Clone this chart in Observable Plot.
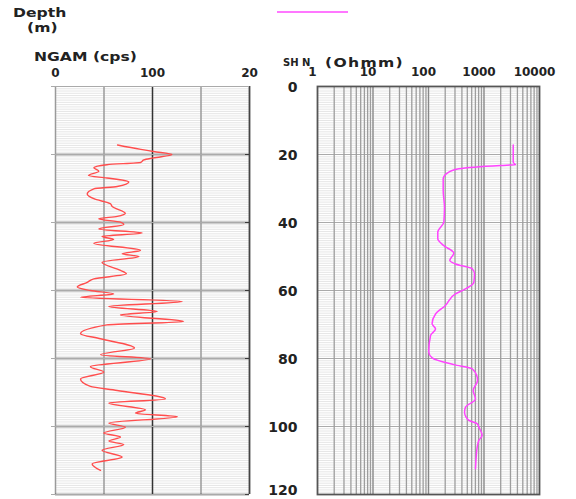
<!DOCTYPE html>
<html><head><meta charset="utf-8">
<script src="https://cdn.jsdelivr.net/npm/d3@7"></script>
<script src="https://cdn.jsdelivr.net/npm/@observablehq/plot@0.6"></script>
<style>
body{margin:0;background:#fff;}
#wrap{position:relative;width:576px;height:499px;overflow:hidden;font-family:"DejaVu Sans",sans-serif;font-weight:bold;color:#222;}
#wrap svg{position:absolute;left:0;top:0;overflow:visible;}
.lbl{position:absolute;white-space:nowrap;font-size:12px;line-height:14px;transform-origin:left center;}
.leg{position:absolute;left:277px;top:11px;width:71px;height:2px;background:#ff77ff;}
</style></head><body><div id="wrap"></div>
<script>
// NGAM (cps) log
const ngamDepth = [17.2,18.5,19.1,20,21,21.6,22.3,23,23.9,24.9,26.2,26.9,28.1,29.4,30.1,31.6,33,34.5,35.3,37.3,38.2,38.9,39.9,40.6,41.9,43.1,44.1,45,46.1,48.2,49.2,50,51.7,54.1,55.1,56.6,57.6,59,60,61,62,63.2,64.7,66.2,67.2,69.1,70.1,72.7,74.2,76.9,78.9,80.1,82.4,84,86,88.2,89.4,91.9,93.1,95.1,96.1,97.1,99,100.2,101.9,103.1,104.3,105.3,107,109,111,112.9];
const ngamValue = [64,88,101,120,101,91,88,53,39.5,44.6,34,53,75.6,63.6,39.5,32.7,39.5,56.7,58.4,72,63.6,44.6,67,70.4,44.6,89.4,48,60,39.5,87.6,68.7,86,48,67,73,39.5,32.7,22.4,36,60,25.8,130.6,55,104.8,67,132,53,25.8,46.4,81.4,46.4,98,36,49.8,25.8,36,63.6,113.4,55,92.8,82.5,125.5,55,72,49.8,67,55,70.4,48,68.7,37.8,46.4];
// SHN resistivity (Ohmm) log
const resDepth = [17.2,22.3,23,23.2,24.2,25.5,27.2,30.6,35.5,39.9,42.8,44.8,46.8,49,51.2,52.2,53.6,55.1,57.6,59.8,61,64.4,66.9,69.8,71.3,73.2,78.1,79.8,81.8,83,85.5,86.5,89.4,91.9,94.3,95.8,98.2,99.2,100.2,102.6,104.1,106.1,109,112.4];
const resValue = [3360,3360,3690,1980,352,217,184,184,194,189,147,147,189,286,242,306,612,674,656,433,306,202,134,116,134,109,101,116,286,612,754,765,638,703,464,446,533,754,807,927,807,754,723,703];
// axes
const depthTicks = [0,20,40,60,80,100,120];
const ngamTicks = [0,100,200];
const ngamTickLabels = ["0","100","20"];
const ngamGrid = [50,150];
const resTicks = [1,10,100,1000,10000];
const resTickLabels = ["1","10","100","1000","10000"];

const ngam = ngamDepth.map((d,i)=>({d, v: ngamValue[i]}));
const res = resDepth.map((d,i)=>({d, v: resValue[i]}));
const minorDepths = d3.range(0, 120.01, 2/3);
const majorDepths = depthTicks.slice(1, -1);
const logMinor = [];
for (let k = 0; k < 4; k++) for (let m = 2; m <= 9; m++) logMinor.push(m * Math.pow(10, k));

const wrap = document.getElementById("wrap");
const font = "DejaVu Sans, sans-serif";
const depthLabelStyle = {text: d => String(d), frameAnchor: "left", dx: -20,
  textAnchor: "end", fontSize: 14, fontWeight: "bold", fill: "#222", style: "letter-spacing:2px"};

const left = Plot.plot({
  width: 260, height: 499,
  marginLeft: 55, marginRight: 11, marginTop: 86, marginBottom: 5,
  style: {fontFamily: font, background: "transparent"},
  x: {domain: [0, 200], axis: null},
  y: {domain: [0, 120], reverse: true, axis: null},
  marks: [
    Plot.ruleY(minorDepths, {y: d => d, stroke: "#e6e6e6", strokeWidth: 1}),
    Plot.ruleY(majorDepths, {y: d => d, stroke: "#3a3a3a", strokeWidth: 1.4}),
    Plot.ruleX(ngamGrid, {x: d => d, stroke: "#9a9a9a", strokeWidth: 1.5}),
    Plot.ruleX([100], {x: d => d, stroke: "#333", strokeWidth: 1.5}),
    Plot.ruleX([0], {x: d => d, stroke: "#9a9a9a", strokeWidth: 1.5}),
    Plot.ruleX([200], {x: d => d, stroke: "#444", strokeWidth: 1.8}),
    Plot.ruleY([0], {y: d => d, stroke: "#aaa", strokeWidth: 1.2}),
    Plot.ruleY([120], {y: d => d, stroke: "#444", strokeWidth: 1.5}),
    Plot.tickY(depthTicks, {y: d => d, frameAnchor: "left", stroke: "#aaa", strokeWidth: 1.2, dx: -4}),
    Plot.line(ngam, {x: "v", y: "d", stroke: "#ff4d4d", strokeWidth: 1.4, curve: "monotone-y"}),
    Plot.text(ngamTicks, {x: d => d, text: (d, i) => ngamTickLabels[i], frameAnchor: "top", dy: -18,
      fontSize: 12, fontWeight: "bold", fill: "#222", style: "letter-spacing:1.2px"})
  ]
});

const right = Plot.plot({
  width: 576, height: 499,
  marginLeft: 317, marginRight: 37, marginTop: 86, marginBottom: 5,
  style: {fontFamily: font, background: "transparent"},
  x: {type: "log", domain: [1, 10000], axis: null},
  y: {domain: [0, 120], reverse: true, axis: null},
  marks: [
    Plot.ruleY(minorDepths, {y: d => d, stroke: "#e6e6e6", strokeWidth: 1}),
    Plot.ruleY(majorDepths, {y: d => d, stroke: "#aaa", strokeWidth: 1.2}),
    Plot.ruleX(logMinor, {x: d => d, stroke: "#9d9d9d", strokeWidth: 1.3}),
    Plot.ruleX([10, 100, 1000], {x: d => d, stroke: "#888", strokeWidth: 1.4}),
    Plot.frame({stroke: "#555", strokeWidth: 1.8}),
    Plot.line(res, {x: "v", y: "d", stroke: "#ff44ff", strokeWidth: 1.5, curve: "monotone-y"}),
    Plot.text(resTicks, {x: d => d, text: (d, i) => resTickLabels[i], frameAnchor: "top", dy: -19, dx: -5,
      fontSize: 12, fontWeight: "bold", fill: "#222", style: "letter-spacing:1.2px"}),
    Plot.text(depthTicks.slice(0, -1), {y: d => d, dy: 1.5, ...depthLabelStyle}),
    Plot.text(depthTicks.slice(-1), {y: d => d, dy: -4, ...depthLabelStyle})
  ]
});

wrap.appendChild(left);
wrap.appendChild(right);

function addLabel(text, x, yc, size, sx, ls) {
  const el = document.createElement("div");
  el.className = "lbl";
  el.textContent = text;
  el.style.left = x + "px";
  el.style.top = (yc - 7) + "px";
  el.style.fontSize = size + "px";
  el.style.transform = `scaleX(${sx})`;
  if (ls) el.style.letterSpacing = ls + "px";
  wrap.appendChild(el);
}
addLabel("Depth", 13, 13, 12, 1.3);
addLabel("(m)", 27, 28, 12, 1.3);
addLabel("NGAM (cps)", 34, 57, 12, 1.3);
addLabel("SH N", 283, 63, 10, 1.0);
addLabel("(Ohmm)", 325, 63, 12, 1.3, 1);
const leg = document.createElement("div");
leg.className = "leg";
wrap.appendChild(leg);
</script></body></html>
